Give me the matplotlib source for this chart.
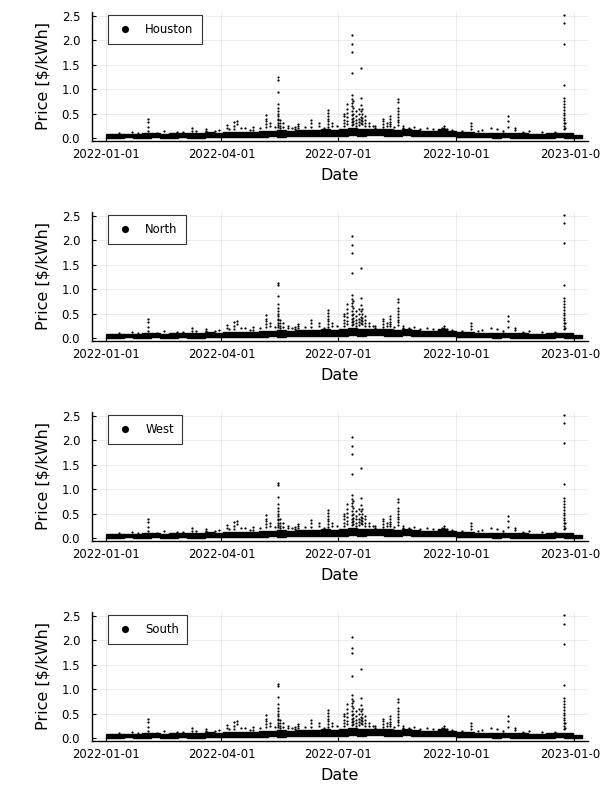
import numpy as np
import matplotlib
matplotlib.use("Agg")
import matplotlib.pyplot as plt

# zones shown top to bottom
zones = ["Houston", "North", "West", "South"]

# weekly price band (start day of each week, lower and upper edge of the dense band) [$/kWh]
week_start = list(range(0, 365, 7))
week_low = [0.01, 0.01, 0.02, 0.01, 0.01, 0.02, 0.01, 0.01, 0.02, 0.01, 0.01, 0.02, 0.02,
            0.02, 0.03, 0.02, 0.03, 0.03, 0.04, 0.03, 0.04, 0.04, 0.05, 0.04, 0.05, 0.05,
            0.05, 0.06, 0.05, 0.06, 0.06, 0.05, 0.05, 0.06, 0.05, 0.04, 0.04, 0.05, 0.04,
            0.03, 0.02, 0.02, 0.02, 0.01, 0.02, 0.01, 0.01, 0.01, 0.01, 0.01, 0.02, 0.01, 0.00]
week_high = [0.08, 0.09, 0.08, 0.09, 0.11, 0.10, 0.09, 0.10, 0.11, 0.10, 0.11, 0.12, 0.11,
             0.12, 0.13, 0.12, 0.13, 0.14, 0.15, 0.16, 0.15, 0.16, 0.17, 0.16, 0.18, 0.17,
             0.19, 0.20, 0.19, 0.18, 0.18, 0.19, 0.17, 0.18, 0.17, 0.15, 0.14, 0.19, 0.15,
             0.13, 0.12, 0.11, 0.11, 0.10, 0.11, 0.10, 0.10, 0.09, 0.09, 0.10, 0.11, 0.10, 0.07]

# hourly prices sticking out of the band, common to all zones (day of year, price)
spike_day = [33, 33, 33, 33, 20, 45, 55, 55, 67, 67, 78, 78, 85, 94, 94,
             100, 100, 100, 102, 102, 108, 115, 115,
             125, 125, 125, 125, 125, 128, 128,
             134, 134, 134, 134, 134, 134, 134, 134, 134, 134,
             136, 136, 136, 136, 138, 138, 142, 142, 147, 147, 150, 150, 150,
             160, 160, 160, 166, 166,
             173, 173, 173, 173, 173, 173, 173, 176, 176,
             186, 186, 186, 186, 186, 188, 188, 188, 188, 188, 188,
             191.5, 191.5, 191.5, 191.5, 191.5, 191.5, 191.5, 191.5, 191.5,
             193, 193, 193, 193, 193, 193, 195, 195, 195, 195, 195,
             197, 197, 197, 197, 197, 198.7, 198.7, 198.7, 198.7, 198.7, 198.7,
             200, 200, 200, 200, 200, 202, 202, 202, 202, 205, 205, 210, 210,
             216, 216, 216, 216, 219, 219, 221.5, 221.5, 221.5, 221.5, 221.5,
             228, 228, 228, 228, 228, 228, 228, 228, 228, 232, 232, 240, 250,
             262, 262, 264, 264, 266, 284.5, 284.5, 284.5, 293, 300, 305,
             313.6, 313.6, 313.6, 319, 319, 330,
             357, 357, 357, 357, 357, 357, 357, 357, 357, 357, 357, 357, 358, 358,
             10, 25, 40, 60, 70, 88, 96, 105, 112, 120, 132, 145, 155, 170, 180,
             208, 225, 236, 245, 255, 270, 278, 290, 310, 325, 340, 350]
spike_price = [0.40, 0.33, 0.22, 0.15, 0.12, 0.14, 0.12, 0.10, 0.20, 0.15, 0.18, 0.14, 0.15, 0.27, 0.20,
               0.32, 0.25, 0.18, 0.35, 0.28, 0.20, 0.22, 0.17,
               0.47, 0.40, 0.34, 0.28, 0.22, 0.30, 0.25,
               0.70, 0.62, 0.55, 0.50, 0.45, 0.40, 0.36, 0.30, 0.26, 0.22,
               0.38, 0.30, 0.25, 0.20, 0.30, 0.22, 0.25, 0.20, 0.22, 0.18, 0.28, 0.24, 0.20,
               0.36, 0.30, 0.22, 0.30, 0.25,
               0.58, 0.52, 0.45, 0.40, 0.34, 0.28, 0.22, 0.30, 0.25,
               0.50, 0.45, 0.38, 0.30, 0.25, 0.70, 0.60, 0.52, 0.44, 0.35, 0.28,
               0.88, 0.80, 0.72, 0.65, 0.56, 0.48, 0.40, 0.33, 0.26,
               0.75, 0.62, 0.50, 0.42, 0.35, 0.28, 0.55, 0.45, 0.38, 0.30, 0.24,
               0.60, 0.50, 0.40, 0.33, 0.27, 0.82, 0.68, 0.55, 0.44, 0.36, 0.30,
               0.60, 0.50, 0.42, 0.35, 0.28, 0.45, 0.38, 0.30, 0.25, 0.30, 0.25, 0.25, 0.20,
               0.40, 0.34, 0.28, 0.22, 0.30, 0.25, 0.45, 0.40, 0.33, 0.28, 0.24,
               0.80, 0.74, 0.62, 0.56, 0.50, 0.44, 0.38, 0.32, 0.26, 0.25, 0.20, 0.22, 0.20,
               0.20, 0.17, 0.24, 0.20, 0.18, 0.30, 0.24, 0.18, 0.16, 0.20, 0.18,
               0.45, 0.35, 0.22, 0.20, 0.16, 0.14,
               0.82, 0.75, 0.70, 0.63, 0.58, 0.52, 0.47, 0.42, 0.36, 0.30, 0.24, 0.18, 0.30, 0.20,
               0.10, 0.11, 0.10, 0.13, 0.14, 0.16, 0.18, 0.20, 0.17, 0.20, 0.22, 0.20, 0.22, 0.20, 0.24,
               0.24, 0.22, 0.20, 0.19, 0.18, 0.16, 0.14, 0.15, 0.14, 0.13, 0.12, 0.12]

# largest prices, which differ a little between zones
peak_day = [134, 134, 134, 191.5, 191.5, 191.5, 191.5, 198.7, 357, 357, 357, 357]
peak_price = {
    "Houston": [1.26, 1.19, 0.95, 2.10, 1.92, 1.77, 1.33, 1.43, 2.52, 2.36, 1.93, 1.09],
    "North":   [1.13, 1.09, 0.86, 2.08, 1.91, 1.75, 1.33, 1.44, 2.52, 2.36, 1.95, 1.09],
    "West":    [1.13, 1.09, 0.85, 2.06, 1.89, 1.72, 1.32, 1.43, 2.52, 2.35, 1.94, 1.11],
    "South":   [1.11, 1.07, 0.85, 2.06, 1.85, 1.75, 1.28, 1.41, 2.52, 2.34, 1.93, 1.08],
}

tick_days = [0, 90, 181, 273, 365]
tick_labels = ["2022-01-01", "2022-04-01", "2022-07-01", "2022-10-01", "2023-01-01"]

fig = plt.figure(figsize=(6, 8), dpi=100)

for i, zone in enumerate(zones):
    bottom = 1 - (141 + 200 * i) / 800
    ax = fig.add_axes([92 / 600, bottom, 496 / 600, 129 / 800])

    low = np.array(week_low)
    high = np.array(week_high)
    ax.bar(week_start, high - low, bottom=low, width=7, align="edge",
           color="black", edgecolor="black", linewidth=1.0, zorder=2)
    ax.plot(spike_day, spike_price, "o", color="black", ms=1.6, mew=0, zorder=3)
    ax.plot(peak_day, peak_price[zone], "o", color="black", ms=1.6, mew=0, zorder=3,
            label=zone)

    ax.set_xlim(-11, 376)
    ax.set_ylim(-0.06, 2.58)
    ax.set_xticks(tick_days)
    ax.set_xticklabels(tick_labels)
    ax.set_yticks([0.0, 0.5, 1.0, 1.5, 2.0, 2.5])
    ax.set_yticklabels(["0.0", "0.5", "1.0", "1.5", "2.0", "2.5"])
    ax.tick_params(direction="in", length=3, width=0.8, labelsize=8.4)
    ax.tick_params(axis="x", pad=5)
    ax.tick_params(axis="y", pad=8.5)

    ax.grid(True, color="black", alpha=0.1, linewidth=0.5)
    ax.set_axisbelow(True)
    for side in ["top", "right"]:
        ax.spines[side].set_visible(False)
    for side in ["left", "bottom"]:
        ax.spines[side].set_linewidth(1.0)

    ax.set_xlabel("Date", fontsize=11.5, labelpad=5)
    ax.set_ylabel("Price [$/kWh]", fontsize=11.5, labelpad=8)

    leg = ax.legend(loc="upper left", bbox_to_anchor=(0.032, 0.977), borderaxespad=0,
                    fontsize=8.4, markerscale=3.2, fancybox=False, framealpha=1,
                    edgecolor="#333333", borderpad=0.7, handletextpad=0.9, handlelength=1.6)
    leg.get_frame().set_linewidth(0.8)

fig.savefig("out.png", dpi=100)
